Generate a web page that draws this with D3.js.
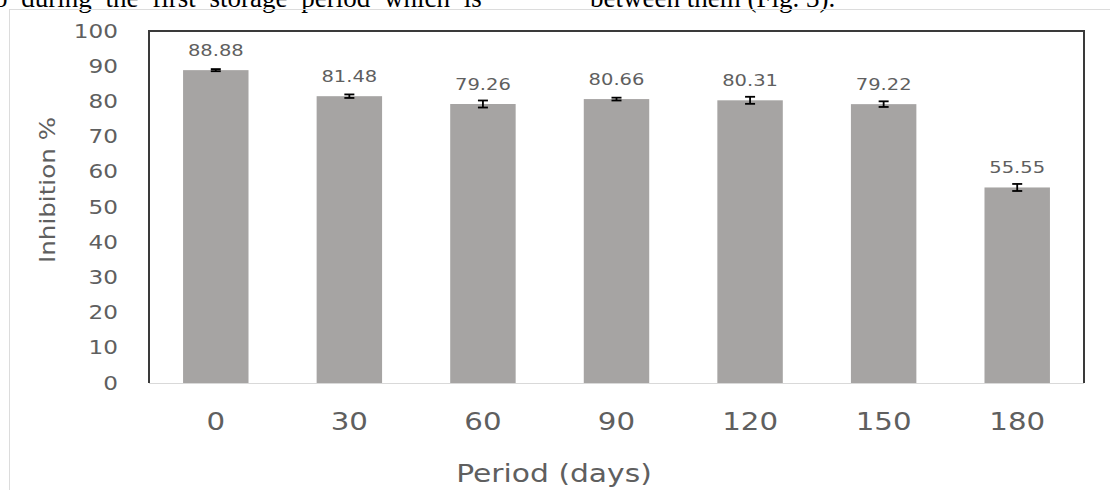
<!DOCTYPE html>
<html><head><meta charset="utf-8">
<script src="https://cdn.jsdelivr.net/npm/d3@7"></script>
<style>body{margin:0;background:#fff}svg{display:block}</style>
</head><body>
<svg id="c" width="1110" height="490"></svg>
<script>
const categories = ["0","30","60","90","120","150","180"];
const values = [88.88, 81.48, 79.26, 80.66, 80.31, 79.22, 55.55];
const errors = [0.3, 0.5, 1.0, 0.4, 1.0, 0.8, 1.0];
const yTicks = [0,10,20,30,40,50,60,70,80,90,100];

const svg = d3.select("#c");
const m = {left:149, right:1084, top:31, bottom:383};
const FONT = "DejaVu Sans, Verdana, sans-serif";
const GRAY = "#5f5f5f";
const SX = 1.22;

// cropped body text above the figure
svg.append("text").attr("x",-6).attr("y",7).attr("word-spacing",7)
  .attr("font-family","Liberation Serif, Times New Roman, serif").attr("font-size",27).attr("fill","#000")
  .text("o during the first storage period which is");
svg.append("text").attr("x",590).attr("y",7)
  .attr("font-family","Liberation Serif, Times New Roman, serif").attr("font-size",27).attr("fill","#000")
  .text("between them (Fig. 3).");

// outer chart border
svg.append("rect").attr("x",9.5).attr("y",9.5).attr("width",1120).attr("height",500)
  .attr("fill","none").attr("stroke","#dcdcdc").attr("stroke-width",1);

const x = d3.scaleBand().domain(categories).range([m.left, m.right]).paddingInner(0.51).paddingOuter(0.255);
const y = d3.scaleLinear().domain([0,100]).range([m.bottom, m.top]);

// bars
svg.selectAll("rect.bar").data(values).join("rect").attr("class","bar")
  .attr("x",(d,i)=>x(categories[i])).attr("width",x.bandwidth())
  .attr("y",d=>y(d)).attr("height",d=>y(0)-y(d)).attr("fill","#a6a4a3");

// error bars
const eb = svg.append("g").attr("stroke","#000").attr("stroke-width",1.8);
values.forEach((v,i)=>{
  const cx = x(categories[i]) + x.bandwidth()/2;
  eb.append("line").attr("x1",cx).attr("x2",cx).attr("y1",y(v-errors[i])).attr("y2",y(v+errors[i]));
  eb.append("line").attr("x1",cx-5).attr("x2",cx+5).attr("y1",y(v-errors[i])).attr("y2",y(v-errors[i]));
  eb.append("line").attr("x1",cx-5).attr("x2",cx+5).attr("y1",y(v+errors[i])).attr("y2",y(v+errors[i]));
});

// data labels (horizontally widened like the reference)
svg.selectAll("text.lbl").data(values).join("text").attr("class","lbl")
  .attr("transform",(d,i)=>`translate(${x(categories[i]) + x.bandwidth()/2},${y(d)-14}) scale(${SX},1)`)
  .attr("text-anchor","middle").attr("font-family",FONT)
  .attr("font-size",16).attr("fill",GRAY).text(d=>d.toFixed(2));

// x baseline
svg.append("line").attr("x1",m.left).attr("x2",m.right).attr("y1",y(0)+0.5).attr("y2",y(0)+0.5)
  .attr("stroke","#d9d9d9").attr("stroke-width",1);

// frame: left, top, right
svg.append("path")
  .attr("d",`M${m.left},${m.bottom} L${m.left},${m.top} L${m.right},${m.top} L${m.right},${m.bottom}`)
  .attr("fill","none").attr("stroke","#3a3a3a").attr("stroke-width",2);

// y axis tick labels
const yAxis = d3.axisLeft(y).tickValues(yTicks).tickSize(0).tickPadding(31);
const ga = svg.append("g").attr("transform",`translate(${m.left},0)`).call(yAxis);
ga.select(".domain").remove();
ga.selectAll("text").attr("font-family",FONT).attr("font-size",19).attr("fill",GRAY)
  .attr("x",-31/SX).attr("transform",`scale(${SX},1)`);

// x axis labels
const xAxis = d3.axisBottom(x).tickSize(0).tickPadding(30);
const gx = svg.append("g").attr("transform",`translate(0,${m.bottom})`).call(xAxis);
gx.select(".domain").remove();
gx.selectAll("text").attr("font-family",FONT).attr("font-size",24).attr("fill",GRAY)
  .attr("transform",`scale(${SX},1)`);

// axis titles
svg.append("text").attr("transform","translate(55,190) rotate(-90) scale(1.12,1)").attr("text-anchor","middle")
  .attr("font-family",FONT).attr("font-size",22).attr("fill",GRAY)
  .text("Inhibition %");
svg.append("text").attr("transform","translate(554,482) scale(1.24,1)").attr("text-anchor","middle")
  .attr("font-family",FONT).attr("font-size",24).attr("fill",GRAY)
  .text("Period (days)");
</script>
</body></html>
